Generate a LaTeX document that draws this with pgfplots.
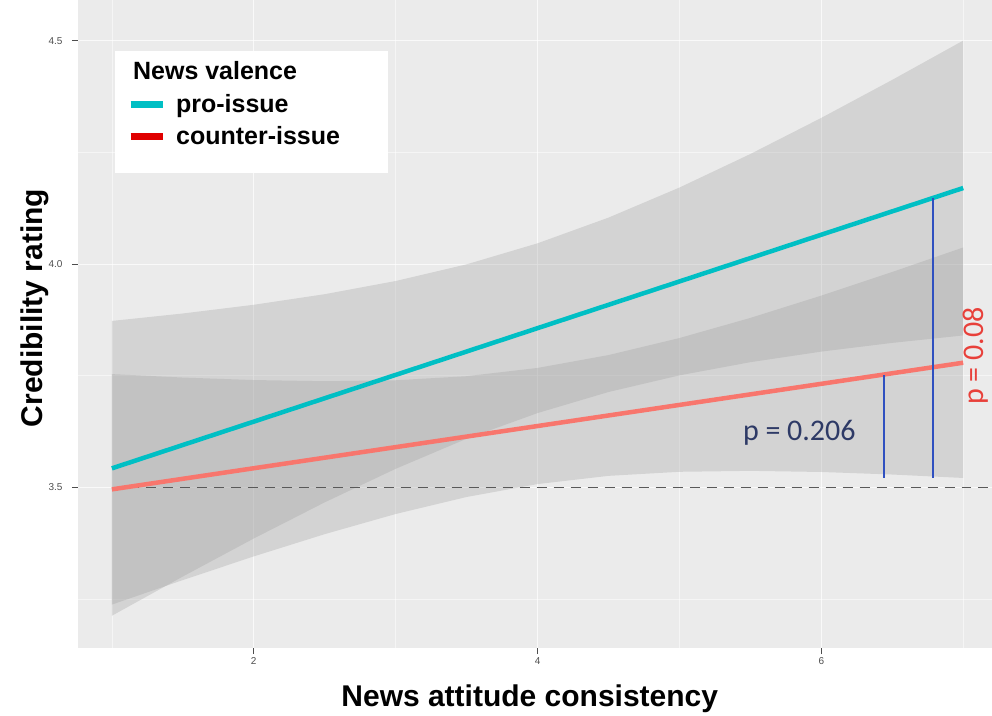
\documentclass[border=0pt]{standalone}
\usepackage{fontspec}
\setmainfont{Liberation Sans}
\newfontfamily\calibri{Carlito}
\usepackage{pgfplots}
\pgfplotsset{compat=1.18}
\definecolor{bg}{HTML}{EBEBEB}
\definecolor{cyanline}{HTML}{00BFC4}
\definecolor{redline}{HTML}{F8766D}
\definecolor{pblue}{HTML}{2F50C0}
\definecolor{navy}{HTML}{2E3A66}
\definecolor{pred}{HTML}{E8403A}
\definecolor{keyred}{HTML}{E00000}
\definecolor{tickgray}{HTML}{4D4D4D}

\begin{document}
\begin{tikzpicture}
\begin{axis}[
 scale only axis, width=914pt, height=648pt,
 xmin=0.761, xmax=7.2, ymin=3.14, ymax=4.59,
 axis background/.style={fill=bg},
 axis line style={draw=none},
 xtick={2,4,6}, ytick={3.5,4.0,4.5},
 minor xtick={1,3,5,7}, minor ytick={3.25,3.75,4.25},
 xtick pos=lower, ytick pos=left,
 grid=both,
 major grid style={white, line width=0.9pt, opacity=0.7},
 minor grid style={white, line width=0.5pt, opacity=0.5},
 tick align=outside, major tick length=6pt, minor tick length=0pt,
 tick style={tickgray, line width=0.6pt},
 ticklabel style={font=\fontsize{10}{12}\selectfont, text=tickgray},
 y tick label style={xshift=-6pt},
 /pgf/number format/assume math mode=true,
 y tick label style={/pgf/number format/fixed, /pgf/number format/fixed zerofill, /pgf/number format/precision=1},
 xlabel={News attitude consistency},
 ylabel={Credibility rating},
 label style={font=\bfseries\fontsize{30}{36}\selectfont},
 x label style={at={(axis description cs:0.4945,-0.078)}, anchor=center},
 y label style={at={(axis description cs:-0.047,0.525)}, anchor=center},
 legend style={at={(0.0405,0.9228)}, anchor=north west, draw=none, fill=white,
   inner xsep=12pt, inner ysep=9pt, font=\bfseries\fontsize{25}{30}\selectfont,
   row sep=9pt, column sep=8pt},
 legend cell align=left,
 legend image code/.code={\draw[#1] (0pt,0pt) -- (32pt,0pt);},
]
% confidence bands
\addplot[draw=none, fill=black!40, fill opacity=0.29, forget plot] coordinates {
 (1,3.8725) (1.5,3.8892) (2,3.9087) (2.5,3.9324) (3,3.9619) (3.5,3.9992) (4,4.0463)
 (4.5,4.1038) (5,4.1711) (5.5,4.2462) (6,4.3271) (6.5,4.4122) (7,4.5001)
 (7,3.8401) (6.5,3.8234) (6,3.8039) (5.5,3.7802) (5,3.7507) (4.5,3.7134) (4,3.6663)
 (3.5,3.6088) (3,3.5415) (2.5,3.4664) (2,3.3855) (1.5,3.3004) (1,3.2125)} -- cycle;
\addplot[draw=none, fill=black!40, fill opacity=0.29, forget plot] coordinates {
 (1,3.7535) (1.5,3.7458) (2,3.7402) (2.5,3.7376) (3,3.7397) (3.5,3.7488) (4,3.7673)
 (4.5,3.7961) (5,3.8342) (5.5,3.8793) (6,3.9292) (6.5,3.9821) (7,4.0370)
 (7,3.5210) (6.5,3.5287) (6,3.5344) (5.5,3.5369) (5,3.5348) (4.5,3.5257) (4,3.5073)
 (3.5,3.4784) (3,3.4403) (2.5,3.3952) (2,3.3454) (1.5,3.2924) (1,3.2375)} -- cycle;
% reference line
\addplot[forget plot, dash pattern=on 10pt off 7pt, color=black!65, line width=1.5pt] coordinates {(1,3.5) (7.2,3.5)};
% fitted lines
\addplot[forget plot, color=cyanline, line width=4.5pt] coordinates {(1,3.5425) (7,4.1701)};
\addplot[forget plot, color=redline, line width=4.5pt] coordinates {(1,3.4955) (7,3.7790)};
% p-value markers
\addplot[forget plot, draw=pblue, draw opacity=1, line width=2pt] coordinates {(6.44,3.752) (6.44,3.52)};
\addplot[forget plot, draw=pblue, draw opacity=1, line width=2pt] coordinates {(6.79,4.148) (6.79,3.52)};
\node[text=navy, font=\calibri\fontsize{30}{36}\selectfont] at (axis cs:5.845,3.623) {p = 0.206};
\node[text=pred, font=\calibri\fontsize{30}{36}\selectfont, rotate=90, inner sep=0pt] at (axis cs:7.09,3.794) {p = 0.08};
% legend
\addlegendimage{empty legend}
\addlegendentry{\hspace*{-43pt}News valence}
\addlegendimage{cyanline, line width=7pt}
\addlegendentry{pro-issue}
\addlegendimage{keyred, line width=7pt}
\addlegendentry{counter-issue\hspace*{34pt}}
\addlegendimage{empty legend}
\addlegendentry{\rule{0pt}{1pt}}
\end{axis}
\path[use as bounding box] (-78pt,-66pt) rectangle (914pt,648pt);
\end{tikzpicture}
\end{document}
